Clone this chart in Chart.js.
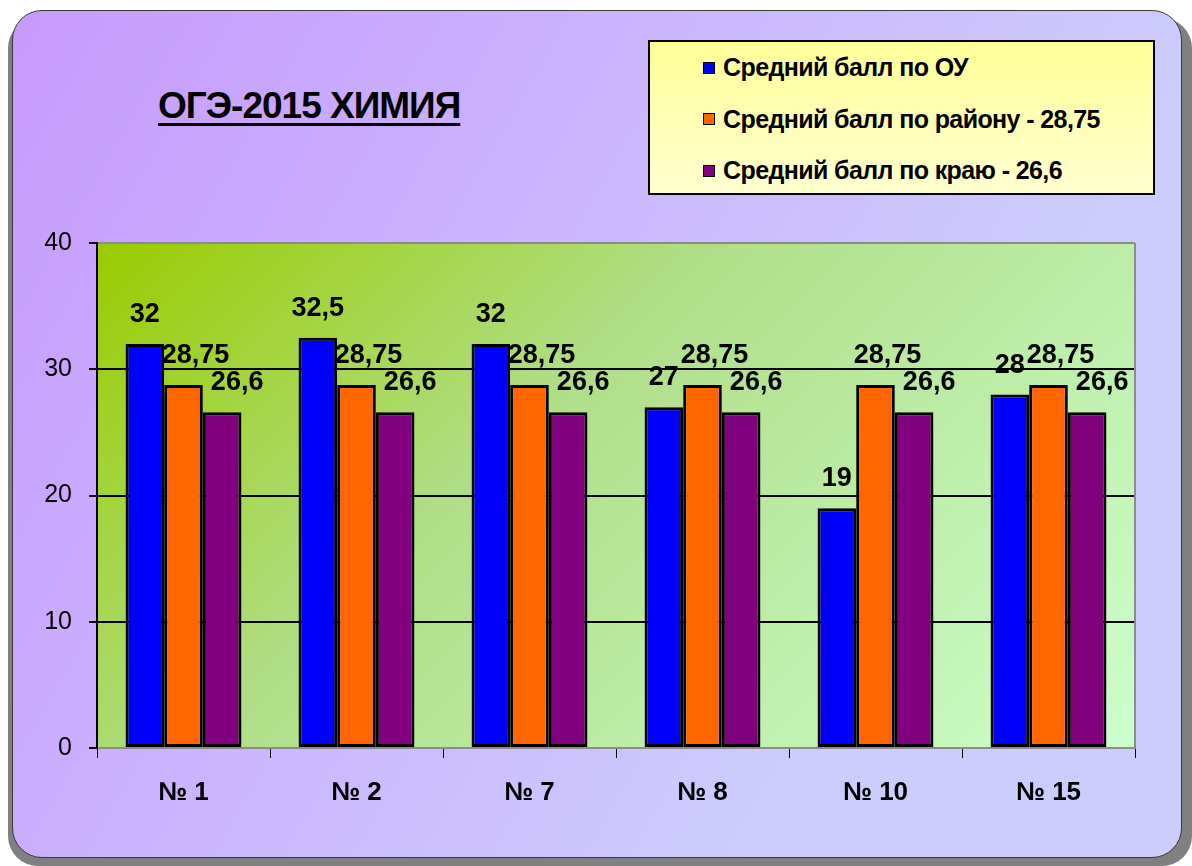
<!DOCTYPE html>
<html>
<head>
<meta charset="utf-8">
<script src="https://cdn.jsdelivr.net/npm/chart.js@4.4.0/dist/chart.umd.min.js"></script>
<style>
html, body { margin: 0; padding: 0; background: #fff; }
body { width: 1192px; height: 866px; position: relative; overflow: hidden; font-family: "Liberation Sans", Arial, sans-serif; }
#shadow { position: absolute; left: 8px; top: 18px; width: 1184px; height: 848px; background: #808080; border-radius: 30px; }
#frame { position: absolute; left: 12px; top: 10px; width: 1170px; height: 848px; box-sizing: border-box;
  border: 1px solid #3a3a3a; border-radius: 30px;
  background: linear-gradient(120deg, #c899fd 0%, #cbb6fd 40%, #cdcdfd 75%, #cdcdfd 100%); }
#title { position: absolute; left: 158px; top: 85px; font-weight: bold; font-size: 37px; color: #000;
  text-decoration: underline; text-decoration-thickness: 3px; text-underline-offset: 5px; letter-spacing: -1px; }
#legend { position: absolute; left: 648px; top: 40px; width: 507px; height: 155px; box-sizing: border-box;
  border: 2px solid #000; background: linear-gradient(#ffff99, #ffffd0); }
.row { height: 51.5px; display: flex; align-items: center; font-weight: bold; font-size: 25px; color: #000; letter-spacing: -0.6px; }
.mark { width: 10px; height: 10px; border: 1px solid #000; margin-left: 53px; margin-right: 8px; }
canvas { position: absolute; left: 0; top: 0; }
</style>
</head>
<body>
<div id="shadow"></div>
<div id="frame"></div>
<div id="title">ОГЭ-2015 ХИМИЯ</div>
<div id="legend"></div>
<canvas id="chart" width="1192" height="866"></canvas>
<script>
const schools = ['№ 1', '№ 2', '№ 7', '№ 8', '№ 10', '№ 15'];
const schoolAvg = [32, 32.5, 32, 27, 19, 28];
const districtAvg = [28.75, 28.75, 28.75, 28.75, 28.75, 28.75];
const regionAvg = [26.6, 26.6, 26.6, 26.6, 26.6, 26.6];
const seriesNames = ['Средний балл по ОУ', 'Средний балл по району - 28,75', 'Средний балл по краю - 26,6'];
const yTicks = [0, 10, 20, 30, 40];

const colors = ['#0000ff', '#ff6600', '#800080'];
const labelShift = [0, 12, 15];
const FONT = '"Liberation Sans", Arial, sans-serif';

// фон области построения (диагональный градиент)
const plotBg = {
    id: 'plotBg',
    beforeDraw(chart) {
        const { ctx, chartArea: a } = chart;
        const d = (a.right - a.left + a.bottom - a.top) / 2;
        const g = ctx.createLinearGradient(a.left, a.top, a.left + d, a.top + d);
        g.addColorStop(0, '#99cc00');
        g.addColorStop(0.4, '#b0de88');
        g.addColorStop(1, '#ccffcc');
        ctx.save();
        ctx.fillStyle = g;
        ctx.fillRect(a.left, a.top, a.right - a.left, a.bottom - a.top);
        ctx.restore();
    },
    beforeDatasetsDraw(chart) {
        const { ctx, chartArea: a } = chart;
        ctx.save();
        ctx.strokeStyle = '#8c8c8c';
        ctx.lineWidth = 2;
        ctx.beginPath();
        ctx.moveTo(a.right, a.top);
        ctx.lineTo(a.right, a.bottom);
        ctx.stroke();
        ctx.restore();
    }
};

// подписи значений над столбцами
const valueLabels = {
    id: 'valueLabels',
    afterDatasetsDraw(chart) {
        const ctx = chart.ctx;
        ctx.save();
        ctx.font = 'bold 27px ' + FONT;
        ctx.fillStyle = '#000';
        ctx.textAlign = 'center';
        ctx.textBaseline = 'alphabetic';
        chart.data.datasets.forEach((ds, i) => {
            chart.getDatasetMeta(i).data.forEach((bar, j) => {
                const txt = String(ds.data[j]).replace('.', ',');
                ctx.fillText(txt, bar.x + labelShift[i], bar.y - 22);
            });
        });
        ctx.restore();
    }
};

const chart = new Chart(document.getElementById('chart'), {
    type: 'bar',
    data: {
        labels: schools,
        datasets: [schoolAvg, districtAvg, regionAvg].map((d, i) => ({
            label: seriesNames[i],
            data: d,
            backgroundColor: colors[i],
            borderColor: '#000',
            borderWidth: 3,
            borderSkipped: false,
            categoryPercentage: 0.67,
            barPercentage: 1.0
        }))
    },
    options: {
        responsive: false,
        animation: false,
        layout: { padding: { top: 243, right: 57, left: 0, bottom: 0 } },
        plugins: { legend: { display: false }, title: { display: false }, tooltip: { enabled: false } },
        scales: {
            x: {
                afterFit: s => { s.height = 118; },
                grid: { drawOnChartArea: false, drawTicks: true, tickLength: 10, color: '#000', lineWidth: 1, offset: true },
                border: { color: '#8c8c8c', width: 2 },
                ticks: { color: '#000', font: { family: FONT, size: 26, weight: 'bold' }, padding: 19, maxRotation: 0 }
            },
            y: {
                min: yTicks[0],
                max: yTicks[yTicks.length - 1],
                afterFit: s => { s.width = 97; },
                afterBuildTicks: s => { s.ticks = yTicks.map(v => ({ value: v })); },
                grid: {
                    color: c => (c.tick && (c.tick.value === 0 || c.tick.value === 40)) ? '#8c8c8c' : '#000',
                    lineWidth: 2,
                    tickColor: '#000',
                    tickLength: 8,
                    tickWidth: 2
                },
                border: { color: '#000', width: 2 },
                ticks: { color: '#000', font: { family: FONT, size: 25 }, padding: 17 }
            }
        }
    },
    plugins: [plotBg, valueLabels]
});

// легенда из наборов данных графика
const legend = document.getElementById('legend');
chart.data.datasets.forEach(ds => {
    const row = document.createElement('div');
    row.className = 'row';
    const mark = document.createElement('span');
    mark.className = 'mark';
    mark.style.background = ds.backgroundColor;
    row.appendChild(mark);
    row.appendChild(document.createTextNode(ds.label));
    legend.appendChild(row);
});
</script>
</body>
</html>
